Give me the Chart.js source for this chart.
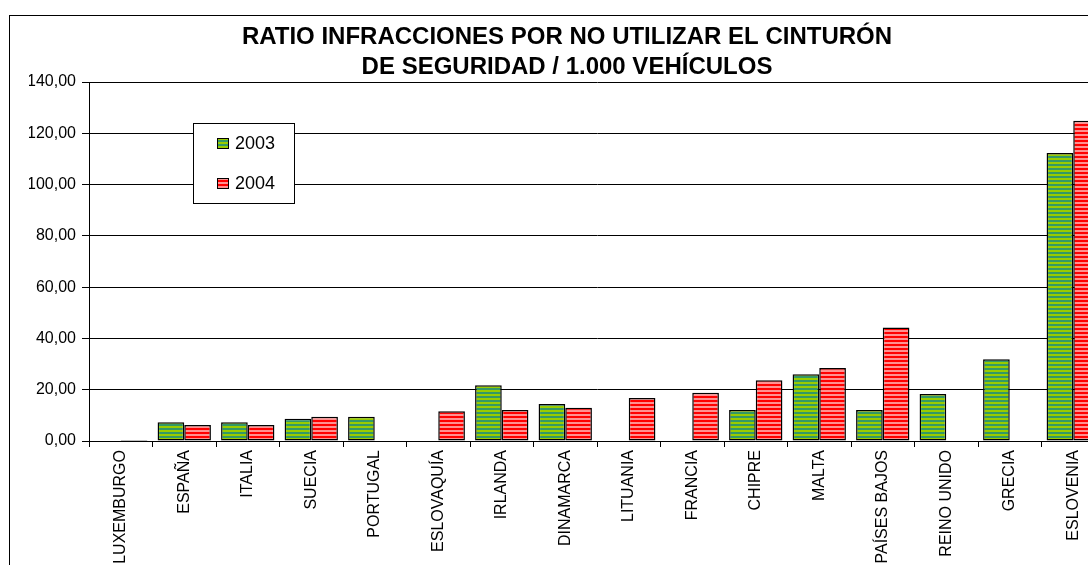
<!DOCTYPE html>
<html>
<head>
<meta charset="utf-8">
<script src="https://cdn.jsdelivr.net/npm/chart.js@4/dist/chart.umd.min.js"></script>
<style>
  html, body { margin: 0; padding: 0; background: #fff; overflow: hidden; }
  #frame { position: absolute; left: 9px; top: 15px; border: 1px solid #000; background: #fff; }
  canvas { display: block; }
</style>
</head>
<body>
<div id="frame"><canvas id="chart" width="1114" height="560"></canvas></div>
<script>
const countries = ["LUXEMBURGO", "ESPAÑA", "ITALIA", "SUECIA", "PORTUGAL", "ESLOVAQUÍA", "IRLANDA", "DINAMARCA",
  "LITUANIA", "FRANCIA", "CHIPRE", "MALTA", "PAÍSES BAJOS", "REINO UNIDO", "GRECIA", "ESLOVENIA"];
const values2003 = [null, 7.3, 7.3, 8.7, 9.5, null, 21.7, 14.4, null, null, 12.1, 26.0, 12.1, 18.3, 31.9, 112.3];
const values2004 = [0.4, 6.2, 6.2, 9.5, null, 11.6, 12.1, 13.0, 16.8, 18.8, 23.7, 28.5, 44.3, null, null, 124.9];
const titleLines = ["RATIO INFRACCIONES POR NO UTILIZAR EL CINTURÓN", "DE SEGURIDAD / 1.000 VEHÍCULOS"];

const FONT = "'Liberation Sans', Arial, sans-serif";

// horizontal striped fill like the old excel patterns
const stripes = (dark, light) => {
  const c = document.createElement("canvas");
  c.width = 4;
  c.height = 4;
  const g = c.getContext("2d");
  g.fillStyle = dark;
  g.fillRect(0, 0, 4, 2);
  g.fillStyle = light;
  g.fillRect(0, 2, 4, 2);
  return g.createPattern(c, "repeat");
};

const greenFill = stripes("#339966", "#99cc00");
const redFill = stripes("#ff0000", "#ff9090");

const boxLegend = {
  id: "boxLegend",
  afterDraw(chart) {
    const ctx = chart.ctx;
    const x = 183, y = 107, w = 101, h = 80;
    ctx.save();
    ctx.fillStyle = "#fff";
    ctx.fillRect(x, y, w, h);
    ctx.strokeStyle = "#000";
    ctx.lineWidth = 1;
    ctx.strokeRect(x + 0.5, y + 0.5, w, h);
    ctx.font = "18px " + FONT;
    ctx.textBaseline = "middle";
    chart.data.datasets.forEach((ds, i) => {
      const cy = y + 20 + i * 40;
      ctx.fillStyle = ds.backgroundColor;
      ctx.fillRect(x + 24, cy - 5, 12, 11);
      ctx.strokeStyle = "#000";
      ctx.strokeRect(x + 24.5, cy - 4.5, 11, 10);
      ctx.fillStyle = "#000";
      ctx.fillText(ds.label, x + 42, cy + 1);
    });
    ctx.restore();
  },
};

const ctx = document.getElementById("chart");
const chart = new Chart(ctx, {
  type: "bar",
  data: {
    labels: countries,
    datasets: [
      {
        label: "2003",
        data: values2003,
        backgroundColor: greenFill,
        borderColor: "#000",
        borderWidth: 1.5,
        borderSkipped: false,
      },
      {
        label: "2004",
        data: values2004,
        backgroundColor: redFill,
        borderColor: "#000",
        borderWidth: 1.5,
        borderSkipped: false,
      },
    ],
  },
  options: {
    responsive: false,
    animation: false,
    layout: { padding: { left: 19, right: 19, top: 0, bottom: 0 } },
    datasets: { bar: { categoryPercentage: 0.84, barPercentage: 1.0 } },
    plugins: {
      legend: { display: false },
      tooltip: { enabled: false },
      title: {
        display: true,
        text: titleLines,
        color: "#000",
        font: { family: FONT, size: 24, weight: "bold", lineHeight: 1.25 },
        padding: { top: 6, bottom: 0 },
      },
    },
    scales: {
      x: {
        afterFit: (scale) => { scale.height = 135; },
        border: { color: "#000", width: 1 },
        grid: { drawOnChartArea: false, color: "#000", tickLength: 6, offset: true },
        ticks: {
          color: "#000",
          font: { family: FONT, size: 16 },
          maxRotation: 90,
          minRotation: 90,
          autoSkip: false,
          padding: 3,
        },
      },
      y: {
        min: 0,
        max: 140,
        afterFit: (scale) => { scale.width = 60; },
        border: { color: "#000", width: 1 },
        grid: { color: "#000", tickLength: 7 },
        ticks: {
          stepSize: 20,
          color: "#000",
          padding: 6,
          font: { family: FONT, size: 16 },
          callback: (v) => v.toFixed(2).replace(".", ","),
        },
      },
    },
  },
  plugins: [boxLegend],
});
</script>
</body>
</html>
